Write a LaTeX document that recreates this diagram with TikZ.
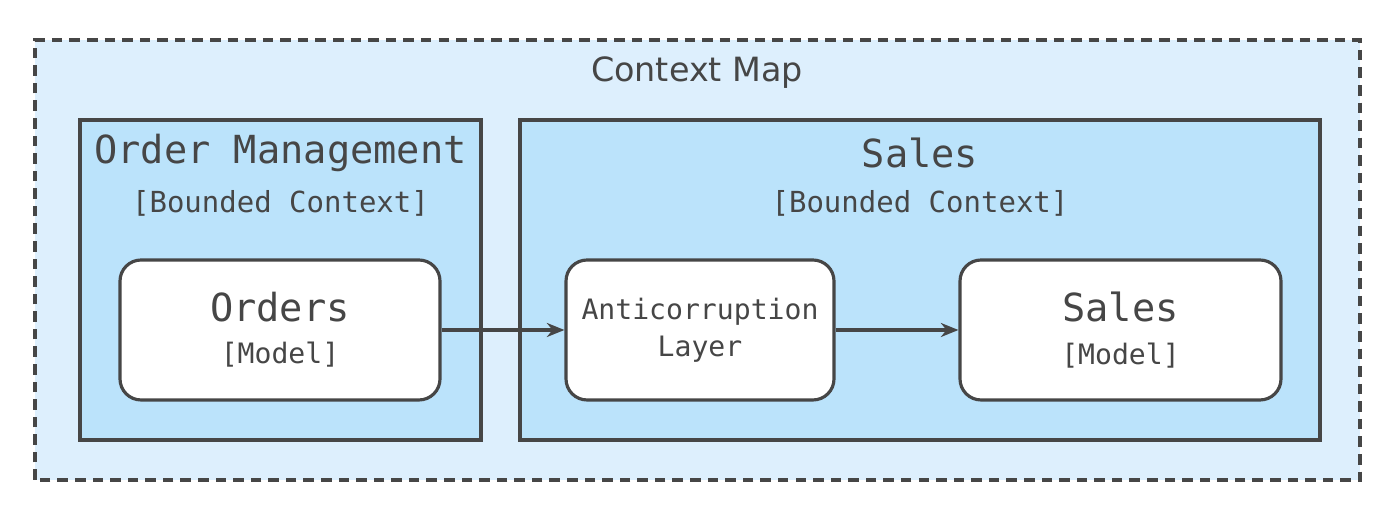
\documentclass[tikz,border=0pt]{standalone}
\usepackage{fontspec}
\setmainfont{DejaVu Sans}
\newfontfamily\plexmono{DejaVu Sans Mono}
\usetikzlibrary{positioning,arrows.meta}
\definecolor{mapfill}{HTML}{DDEFFD}
\definecolor{ctxfill}{HTML}{BBE3FB}
\definecolor{inkgray}{HTML}{464646}
\tikzset{
  context/.style={draw=inkgray, line width=1.8pt, fill=ctxfill},
  model/.style={draw=inkgray, line width=1.8pt, fill=white, rounded corners=12pt,
    align=center, text=inkgray, font=\plexmono},
  flow/.style={-{Stealth[length=10pt,width=8pt]}, draw=inkgray, line width=1.8pt}
}
\begin{document}
\begin{tikzpicture}
    \useasboundingbox (0,0) rectangle (28,10.4);
    \draw[draw=inkgray, line width=1.8pt, dash pattern=on 6pt off 4pt, fill=mapfill] (0.7,0.8) rectangle (27.2,9.6);
    \node[text=inkgray, font=\fontsize{19}{22}\selectfont] (title) at (13.94,8.94) {Context Map};

    \draw[context] (1.6,1.6) rectangle (9.62,8.0);
    \node[text=inkgray, font=\plexmono\fontsize{22}{26}\selectfont] (omname) at (5.61,7.34) {Order Management};
    \node[text=inkgray, font=\plexmono\fontsize{16.5}{20}\selectfont] (omtype) at (5.61,6.34) {[Bounded Context]};

    \draw[context] (10.4,1.6) rectangle (26.4,8.0);
    \node[text=inkgray, font=\plexmono\fontsize{22}{26}\selectfont] (salesname) at (18.4,7.34) {Sales};
    \node[text=inkgray, font=\plexmono\fontsize{16.5}{20}\selectfont] (salestype) at (18.4,6.34) {[Bounded Context]};

    \node[model, minimum width=6.4cm, minimum height=2.8cm, font=\plexmono\fontsize{16}{24}\selectfont] (orders) at (5.6,3.8)
        {{\fontsize{22}{26}\selectfont Orders}\\{[Model]}};
    \node[model, minimum width=5.36cm, minimum height=2.8cm, font=\plexmono\fontsize{16}{21}\selectfont] (acl) at (14.0,3.8)
        {Anticorruption\\Layer};
    \node[model, minimum width=6.42cm, minimum height=2.8cm, font=\plexmono\fontsize{16}{24}\selectfont] (salesmodel) at (22.41,3.8)
        {{\fontsize{22}{26}\selectfont Sales}\\{[Model]}};

    \draw[flow] (orders) -- (acl);
    \draw[flow] (acl) -- (salesmodel);
\end{tikzpicture}
\end{document}
